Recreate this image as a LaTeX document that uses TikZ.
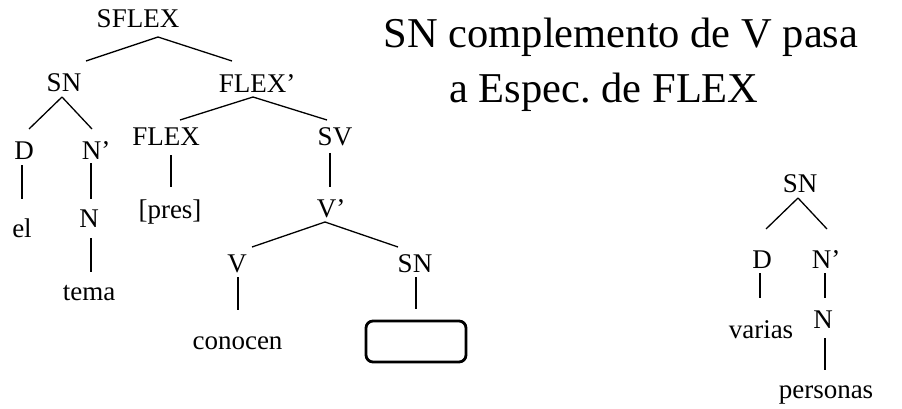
\documentclass[tikz,border=0pt]{standalone}
\usepackage{fontspec}
\setmainfont{Liberation Serif}
\frenchspacing
\begin{document}
\begin{tikzpicture}[x=1pt,y=-1pt,
  lbl/.style={anchor=base,inner sep=0pt,font=\fontsize{27}{30}\selectfont},
  ttl/.style={anchor=base,inner sep=0pt,font=\fontsize{42.5}{50}\selectfont},
  edge/.style={line width=1.3pt,black},
  slot/.style={draw,line width=2.8pt,rounded corners=7pt,minimum width=100pt,minimum height=41pt,inner sep=0pt}]
\useasboundingbox (0,0) rectangle (902,409);
% title
\node[ttl] (t1) at (621,48) {SN complemento de V pasa};
\node[ttl] (t2) at (604,103) {a Espec. de FLEX};
% left tree
\node[lbl] (sflex) at (138,28) {SFLEX};
\node[lbl] (snL) at (64,92) {SN};
\node[lbl] (flexp) at (257,93) {FLEX’};
\node[lbl] (dL) at (24,159) {D};
\node[lbl] (npL) at (96,159) {N’};
\node[lbl] (flex) at (166,146) {FLEX};
\node[lbl] (sv) at (335,146) {SV};
\node[lbl] (el) at (22,237) {el};
\node[lbl] (nL) at (89,227) {N};
\node[lbl] (tema) at (89,300) {tema};
\node[lbl] (pres) at (170,218) {[pres]};
\node[lbl] (vp) at (331,217) {V’};
\node[lbl] (v) at (237,272) {V};
\node[lbl] (snR) at (415,272) {SN};
\node[lbl] (conocen) at (237.5,349) {conocen};
\node[slot] (box) at (416,341.5) {};
% right tree
\node[lbl] (sn2) at (800,192) {SN};
\node[lbl] (d2) at (762,268) {D};
\node[lbl] (np2) at (826,268) {N’};
\node[lbl] (varias) at (761,338) {varias};
\node[lbl] (n2) at (823,328) {N};
\node[lbl] (personas) at (826,398) {personas};
% connectors
\draw[edge] ([shift={(20,9)}]sflex.base) -- ([shift={(22,-31)}]snL.base);
\draw[edge] ([shift={(20,9)}]sflex.base) -- ([shift={(-25,-32)}]flexp.base);
\draw[edge] ([shift={(-2,5)}]snL.base) -- ([shift={(5,-30)}]dL.base);
\draw[edge] ([shift={(-2,5)}]snL.base) -- ([shift={(-4,-30)}]npL.base);
\draw[edge] ([shift={(-4,4)}]flexp.base) -- ([shift={(14,-26)}]flex.base);
\draw[edge] ([shift={(-4,4)}]flexp.base) -- ([shift={(-8,-26)}]sv.base);
\draw[edge] ([shift={(-2,6)}]dL.base) -- ([shift={(0,-38)}]el.base);
\draw[edge] ([shift={(-5,4)}]npL.base) -- ([shift={(2,-28)}]nL.base);
\draw[edge] ([shift={(2,11)}]nL.base) -- ([shift={(2,-28)}]tema.base);
\draw[edge] ([shift={(5,9)}]flex.base) -- ([shift={(1,-31)}]pres.base);
\draw[edge] ([shift={(-5,7)}]sv.base) -- ([shift={(-1,-30)}]vp.base);
\draw[edge] ([shift={(-6,5)}]vp.base) -- ([shift={(15,-25)}]v.base);
\draw[edge] ([shift={(-6,5)}]vp.base) -- ([shift={(-17,-25)}]snR.base);
\draw[edge] ([shift={(1,5)}]v.base) -- ([shift={(0.5,-39)}]conocen.base);
\draw[edge] ([shift={(1,5)}]snR.base) -- ([shift={(0,-11)}]box.north);
\draw[edge] ([shift={(-2,6)}]sn2.base) -- ([shift={(4,-39)}]d2.base);
\draw[edge] ([shift={(-2,6)}]sn2.base) -- ([shift={(1,-39)}]np2.base);
\draw[edge] ([shift={(-2,5)}]d2.base) -- ([shift={(-1,-40)}]varias.base);
\draw[edge] ([shift={(-1,5)}]np2.base) -- ([shift={(2,-30)}]n2.base);
\draw[edge] ([shift={(2,10)}]n2.base) -- ([shift={(-1,-28)}]personas.base);
\end{tikzpicture}
\end{document}
